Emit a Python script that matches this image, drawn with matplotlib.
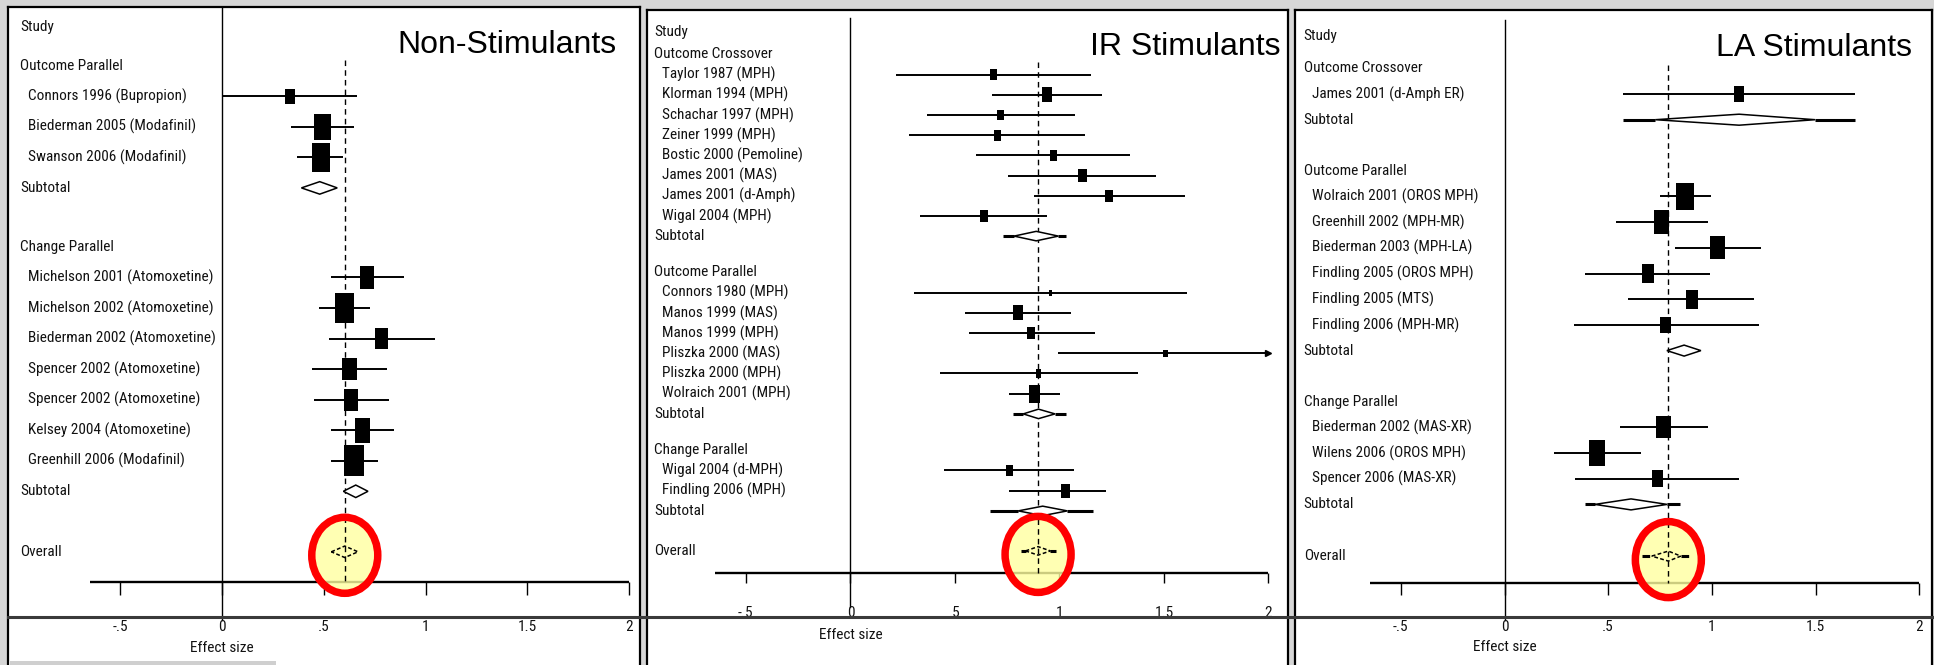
import matplotlib
matplotlib.use("Agg")
import matplotlib.pyplot as plt
from matplotlib.patches import Rectangle, Polygon, Ellipse
from matplotlib.lines import Line2D
from matplotlib import font_manager as fm
import numpy as np

W, H, DPI = 1934, 665, 100

# ======================= DATA =======================
tick_values = [-0.5, 0, 0.5, 1, 1.5, 2]
tick_labels = ['-.5', '0', '.5', '1', '1.5', '2']
x_axis_label = "Effect size"

# ---- Panel 1: Non-Stimulants
ns_title = "Non-Stimulants"
ns_groups = ["Outcome Parallel", "Change Parallel"]
ns_group_sizes = [3, 7]
ns_studies = ["Connors 1996 (Bupropion)", "Biederman 2005 (Modafinil)", "Swanson 2006 (Modafinil)",
              "Michelson 2001 (Atomoxetine)", "Michelson 2002 (Atomoxetine)", "Biederman 2002 (Atomoxetine)",
              "Spencer 2002 (Atomoxetine)", "Spencer 2002 (Atomoxetine)", "Kelsey 2004 (Atomoxetine)",
              "Greenhill 2006 (Modafinil)"]
ns_est = [0.333, 0.495, 0.486, 0.713, 0.601, 0.783, 0.625, 0.632, 0.690, 0.648]
ns_lo = [0.000, 0.337, 0.370, 0.536, 0.476, 0.527, 0.443, 0.450, 0.536, 0.536]
ns_hi = [0.664, 0.650, 0.595, 0.895, 0.729, 1.044, 0.811, 0.818, 0.844, 0.767]
ns_weight = [3.7, 11.1, 13.8, 8.4, 13.8, 7.2, 8.4, 7.9, 10.0, 15.7]
ns_sub_est = [0.480, 0.657]
ns_sub_lo = [0.390, 0.596]
ns_sub_hi = [0.566, 0.717]
ns_sub_outer_lo = [0.390, 0.596]
ns_sub_outer_hi = [0.566, 0.717]
ns_overall_est, ns_overall_lo, ns_overall_hi = 0.603, 0.537, 0.668
ns_overall_outer_lo, ns_overall_outer_hi = 0.537, 0.668

# ---- Panel 2: IR Stimulants
ir_title = "IR Stimulants"
ir_groups = ["Outcome Crossover", "Outcome Parallel", "Change Parallel"]
ir_group_sizes = [8, 6, 2]
ir_studies = ["Taylor 1987 (MPH)", "Klorman 1994 (MPH)", "Schachar 1997 (MPH)", "Zeiner 1999 (MPH)",
              "Bostic 2000 (Pemoline)", "James 2001 (MAS)", "James 2001 (d-Amph)", "Wigal 2004 (MPH)",
              "Connors 1980 (MPH)", "Manos 1999 (MAS)", "Manos 1999 (MPH)", "Pliszka 2000 (MAS)",
              "Pliszka 2000 (MPH)", "Wolraich 2001 (MPH)",
              "Wigal 2004 (d-MPH)", "Findling 2006 (MPH)"]
ir_est = [0.685, 0.941, 0.719, 0.705, 0.971, 1.110, 1.239, 0.639,
          0.957, 0.802, 0.864, 1.507, 0.900, 0.881, 0.760, 1.027]
ir_lo = [0.216, 0.679, 0.367, 0.280, 0.601, 0.754, 0.878, 0.332,
         0.302, 0.546, 0.566, 0.993, 0.427, 0.760, 0.447, 0.760]
ir_hi = [1.150, 1.205, 1.076, 1.122, 1.338, 1.462, 1.602, 0.943,
         1.612, 1.056, 1.169, 2.020, 1.378, 1.003, 1.072, 1.225]
ir_weight = [4.8, 9.5, 4.8, 5.1, 4.8, 7.5, 6.4, 6.8,
             1.4, 9.5, 6.1, 2.2, 2.9, 14.1, 5.1, 8.3]
ir_sub_est = [0.889, 0.900, 0.920]
ir_sub_lo = [0.783, 0.827, 0.803]
ir_sub_hi = [0.995, 0.979, 1.038]
ir_sub_outer_lo = [0.731, 0.776, 0.668]
ir_sub_outer_hi = [1.030, 1.031, 1.162]
ir_overall_est, ir_overall_lo, ir_overall_hi = 0.898, 0.838, 0.957
ir_overall_outer_lo, ir_overall_outer_hi = 0.814, 0.983

# ---- Panel 3: LA Stimulants
la_title = "LA Stimulants"
la_groups = ["Outcome Crossover", "Outcome Parallel", "Change Parallel"]
la_group_sizes = [1, 6, 3]
la_studies = ["James 2001 (d-Amph ER)",
              "Wolraich 2001 (OROS MPH)", "Greenhill 2002 (MPH-MR)", "Biederman 2003 (MPH-LA)",
              "Findling 2005 (OROS MPH)", "Findling 2005 (MTS)", "Findling 2006 (MPH-MR)",
              "Biederman 2002 (MAS-XR)", "Wilens 2006 (OROS MPH)", "Spencer 2006 (MAS-XR)"]
la_est = [1.131, 0.870, 0.758, 1.026, 0.690, 0.903, 0.776, 0.766, 0.446, 0.738]
la_lo = [0.572, 0.750, 0.540, 0.822, 0.386, 0.596, 0.336, 0.557, 0.240, 0.340]
la_hi = [1.690, 0.997, 0.983, 1.237, 0.992, 1.203, 1.227, 0.983, 0.658, 1.131]
la_weight = [5.1, 16.8, 12.2, 11.9, 8.1, 8.1, 6.3, 11.2, 14.1, 6.3]
la_sub_est = [1.131, 0.866, 0.610]
la_sub_lo = [0.727, 0.783, 0.436]
la_sub_hi = [1.498, 0.947, 0.784]
la_sub_outer_lo = [0.572, 0.783, 0.388]
la_sub_outer_hi = [1.690, 0.947, 0.846]
la_overall_est, la_overall_lo, la_overall_hi = 0.790, 0.710, 0.850
la_overall_outer_lo, la_overall_outer_hi = 0.661, 0.894

# ======================= FONTS =======================
_names = {f.name for f in fm.fontManager.ttflist}
LFONT, LSIZE = ('Liberation Sans', 9.5) if 'Liberation Sans' in _names else ('DejaVu Sans', 8.5)
for _cand in ['Liberation Sans Narrow', 'Arial Narrow', 'Roboto Condensed', 'Open Sans Condensed']:
    if _cand in _names:
        LFONT, LSIZE = _cand, 11
        break
TFONT = 'Liberation Sans' if 'Liberation Sans' in _names else 'DejaVu Sans'

# ======================= LAYOUT (pixels) =======================
layouts = [
    dict(box=(8, 7, 640, 665), zero=222.0, unit=203.6, hdr_x=20, name_x=28,
         y_study=26.7, first_gap=39.0, step=30.55, group_gap=59.0, overall_gap=60.5,
         axis_y=581.7, tick_len=13, ticklab_y=627, xlab_y=648, dash_top=60,
         zero_top=8, zero_bot=620, box_scale=7.82, dia_h=12.5, title_x=617, title_y=45),
    dict(box=(647, 10, 1288, 665), zero=850.4, unit=209.0, hdr_x=654, name_x=662,
         y_study=31.7, first_gap=22.6, step=20.2, group_gap=36.4, overall_gap=40.0,
         axis_y=572.7, tick_len=10, ticklab_y=613, xlab_y=635, dash_top=62,
         zero_top=18, zero_bot=607, box_scale=4.87, dia_h=9.5, title_x=1281, title_y=47),
    dict(box=(1295, 10, 1932, 665), zero=1504.5, unit=207.4, hdr_x=1303.7, name_x=1311.6,
         y_study=36.0, first_gap=32.3, step=25.7, group_gap=51.0, overall_gap=51.7,
         axis_y=582.7, tick_len=12, ticklab_y=626.7, xlab_y=646.7, dash_top=65,
         zero_top=20, zero_bot=620, box_scale=6.67, dia_h=11, title_x=1912, title_y=47.5),
]

panels = [
    dict(title=ns_title, groups=ns_groups, sizes=ns_group_sizes, studies=ns_studies,
         est=ns_est, lo=ns_lo, hi=ns_hi, w=ns_weight,
         s_est=ns_sub_est, s_lo=ns_sub_lo, s_hi=ns_sub_hi, s_olo=ns_sub_outer_lo, s_ohi=ns_sub_outer_hi,
         o=(ns_overall_est, ns_overall_lo, ns_overall_hi, ns_overall_outer_lo, ns_overall_outer_hi)),
    dict(title=ir_title, groups=ir_groups, sizes=ir_group_sizes, studies=ir_studies,
         est=ir_est, lo=ir_lo, hi=ir_hi, w=ir_weight,
         s_est=ir_sub_est, s_lo=ir_sub_lo, s_hi=ir_sub_hi, s_olo=ir_sub_outer_lo, s_ohi=ir_sub_outer_hi,
         o=(ir_overall_est, ir_overall_lo, ir_overall_hi, ir_overall_outer_lo, ir_overall_outer_hi)),
    dict(title=la_title, groups=la_groups, sizes=la_group_sizes, studies=la_studies,
         est=la_est, lo=la_lo, hi=la_hi, w=la_weight,
         s_est=la_sub_est, s_lo=la_sub_lo, s_hi=la_sub_hi, s_olo=la_sub_outer_lo, s_ohi=la_sub_outer_hi,
         o=(la_overall_est, la_overall_lo, la_overall_hi, la_overall_outer_lo, la_overall_outer_hi)),
]

AX_MAX = 2.0
AX_MIN = -0.65

fig = plt.figure(figsize=(W / DPI, H / DPI), dpi=DPI)
fig.patch.set_facecolor('#d6d6d6')


def label(ax, x, y, s, **kw):
    ax.text(x, y, s, fontsize=LSIZE, family=LFONT, va='center', ha='left', color='#111111', **kw)


def diamond(ax, est, lo, hi, olo, ohi, y, hh, dashed=False, fill='white', z=4):
    ls = (0, (2.5, 1.5)) if dashed else '-'
    if olo < lo:
        ax.plot([olo, lo], [y, y], color='black', lw=2.2, ls=ls, solid_capstyle='butt', zorder=z)
    if ohi > hi:
        ax.plot([hi, ohi], [y, y], color='black', lw=2.2, ls=ls, solid_capstyle='butt', zorder=z)
    ax.add_patch(Polygon([[lo, y], [est, y - hh / 2], [hi, y], [est, y + hh / 2]], closed=True,
                         facecolor=fill, edgecolor='black', lw=1.1, ls=ls, zorder=z + 0.5))


for P, L in zip(panels, layouts):
    x0, y0, x1, y1 = L['box']
    u = L['unit']
    ax = fig.add_axes([x0 / W, 1 - y1 / H, (x1 - x0) / W, (y1 - y0) / H])
    ax.set_facecolor('white')
    ax.set_xlim((x0 - L['zero']) / u, (x1 - L['zero']) / u)
    ax.set_ylim(y1, y0)
    ax.set_xticks([])
    ax.set_yticks([])
    for s in ['left', 'top', 'right']:
        ax.spines[s].set_linewidth(1.6)
        ax.spines[s].set_color('black')
    ax.spines['bottom'].set_visible(False)

    def xd(px):
        return (px - L['zero']) / u

    hx, nx = xd(L['hdr_x']), xd(L['name_x'])

    # title
    ax.text(xd(L['title_x']), L['title_y'], P['title'], fontsize=23, family=TFONT,
            ha='right', va='center', color='black')

    # rows
    label(ax, hx, L['y_study'], 'Study')
    yc = L['y_study'] + L['first_gap']
    k = 0
    last_sub = yc
    for g, (gname, n) in enumerate(zip(P['groups'], P['sizes'])):
        label(ax, hx, yc, gname)
        for j in range(n):
            yy = yc + (j + 1) * L['step']
            est, lo, hi, w = P['est'][k], P['lo'][k], P['hi'][k], P['w'][k]
            label(ax, nx, yy, P['studies'][k])
            ax.plot([lo, min(hi, AX_MAX)], [yy, yy], color='black', lw=1.4,
                    solid_capstyle='butt', zorder=3)
            if hi > AX_MAX:
                ax.plot([AX_MAX], [yy], marker='>', ms=4, color='black', zorder=3)
            bh = L['box_scale'] * np.sqrt(w)
            bw = 0.64 * bh / u
            ax.add_patch(Rectangle((est - bw / 2, yy - bh / 2), bw, bh,
                                   facecolor='black', edgecolor='none', zorder=4))
            k += 1
        ys = yc + (n + 1) * L['step']
        label(ax, hx, ys, 'Subtotal')
        diamond(ax, P['s_est'][g], P['s_lo'][g], P['s_hi'][g], P['s_olo'][g], P['s_ohi'][g],
                ys, L['dia_h'])
        last_sub = ys
        yc = ys + L['group_gap']

    yo = last_sub + L['overall_gap']
    oe, olo_, ohi_, oolo, oohi = P['o']
    label(ax, hx, yo, 'Overall')

    # zero line, dashed overall line, axis
    ax.plot([0, 0], [L['zero_top'], L['zero_bot']], color='black', lw=1.0, zorder=2)
    ax.plot([oe, oe], [L['dash_top'], L['axis_y']], color='black', lw=1.0,
            ls=(0, (4, 3)), zorder=3)
    ax.plot([AX_MIN, AX_MAX], [L['axis_y'], L['axis_y']], color='black', lw=1.7,
            solid_capstyle='butt', zorder=2)
    ax.vlines(tick_values, L['axis_y'], L['axis_y'] + L['tick_len'], color='black', lw=1.0, zorder=2)
    for tv, tl in zip(tick_values, tick_labels):
        ax.text(tv, L['ticklab_y'], tl, fontsize=LSIZE, family=LFONT, ha='center', va='center',
                color='#111111')
    ax.text(0, L['xlab_y'], x_axis_label, fontsize=LSIZE, family=LFONT, ha='center', va='center',
            color='#111111')

    # highlight
    ax.add_patch(Ellipse((oe, yo + 3.5), 66 / u, 76, facecolor='#ffffa0', alpha=0.8,
                         edgecolor='none', zorder=2.5))
    diamond(ax, oe, olo_, ohi_, oolo, oohi, yo, L['dia_h'] - 1, dashed=True, fill='none', z=4)
    ax.add_patch(Ellipse((oe, yo + 3.5), 66 / u, 76, facecolor='none', edgecolor='#ff0000',
                         lw=5.4, zorder=6))

# dark separator line across the screenshots
fig.add_artist(Line2D([8 / W, 1.0], [1 - 617 / H, 1 - 617 / H], lw=2.2, color='#3a3a3a'))
fig.add_artist(Rectangle((10 / W, 0), 266 / W, 4 / H, transform=fig.transFigure,
                         facecolor='#cfcfcf', edgecolor='none'))

fig.savefig('out.png', dpi=DPI, facecolor=fig.get_facecolor())
